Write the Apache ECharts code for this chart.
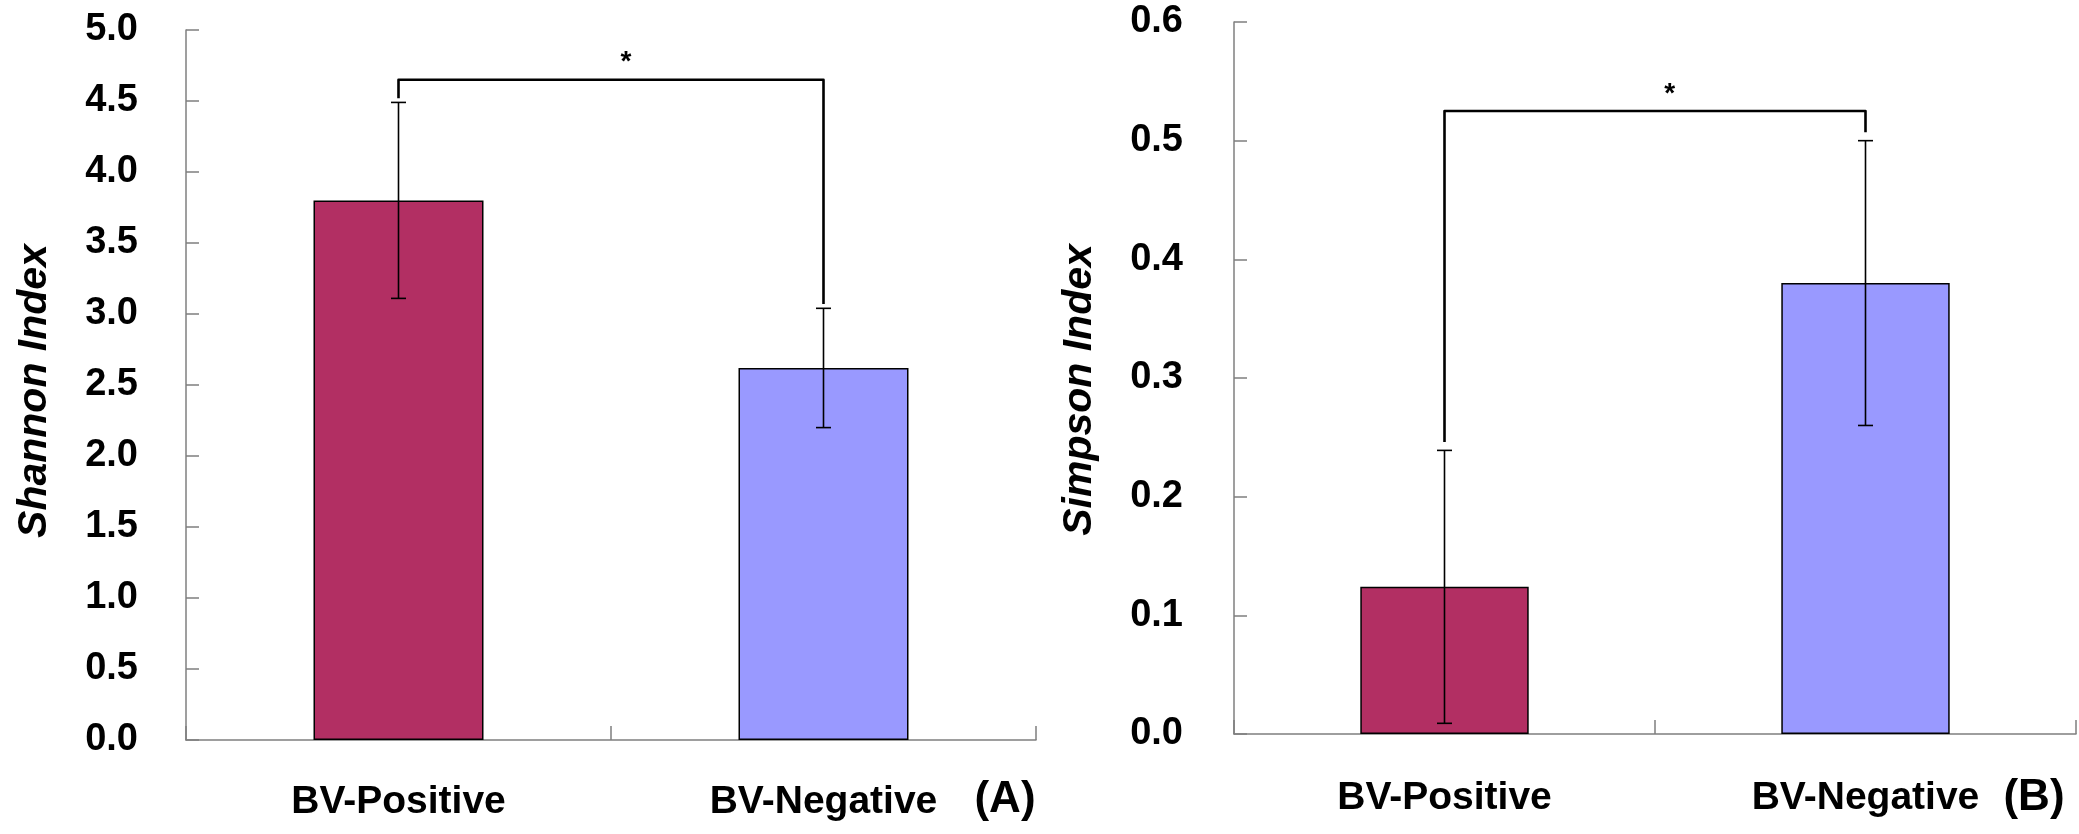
<!DOCTYPE html>
<html>
<head>
<meta charset="utf-8">
<script src="https://cdn.jsdelivr.net/npm/echarts@6/dist/echarts.min.js"></script>
<style>
html,body{margin:0;padding:0;background:#fff;}
#chart{width:2079px;height:834px;}
</style>
</head>
<body>
<div id="chart"></div>
<script>
// ---- data ----
const categories = ['BV-Positive', 'BV-Negative'];
const barColors = ['#B22F63', '#9999FF'];

const shannonMean = [3.80, 2.62];
const shannonErr = [0.69, 0.42];
const shannonTicks = { min: 0, max: 5, interval: 0.5 };
// bracket: [leftBottom, rightBottom, top]
const shannonBracket = [4.52, 3.07, 4.65];

const simpsonMean = [0.124, 0.380];
const simpsonErr = [0.115, 0.120];
const simpsonTicks = { min: 0, max: 0.6, interval: 0.1 };
const simpsonBracket = [0.246, 0.507, 0.525];

const yNames = ['Shannon Index', 'Simpson Index'];
const panelTags = ['(A)', '(B)'];
const sigMark = '*';

// ---- styling ----
const FONT = "'Liberation Sans', Arial, sans-serif";
const AXIS_COLOR = '#7f7f7f';

const chart = echarts.init(document.getElementById('chart'), null, { renderer: 'canvas' });

function errData(mean, err) {
  return mean.map((m, i) => [i, m - err[i], m + err[i]]);
}

function errRender(params, api) {
  const x = api.value(0);
  const lo = api.coord([x, api.value(1)]);
  const hi = api.coord([x, api.value(2)]);
  const cap = 7.5;
  const st = { stroke: '#000', lineWidth: 1.6 };
  return {
    type: 'group',
    children: [
      { type: 'line', shape: { x1: lo[0], y1: lo[1], x2: hi[0], y2: hi[1] }, style: st },
      { type: 'line', shape: { x1: hi[0] - cap, y1: hi[1], x2: hi[0] + cap, y2: hi[1] }, style: st },
      { type: 'line', shape: { x1: lo[0] - cap, y1: lo[1], x2: lo[0] + cap, y2: lo[1] }, style: st }
    ]
  };
}

function bracketRender(params, api) {
  const lb = api.coord([0, api.value(0)]);
  const rb = api.coord([1, api.value(1)]);
  const tl = api.coord([0, api.value(2)]);
  const tr = api.coord([1, api.value(2)]);
  const starX = tl[0] + (tr[0] - tl[0]) * 0.535;
  return {
    type: 'group',
    children: [
      {
        type: 'polyline',
        shape: { points: [lb, tl, tr, rb] },
        style: { stroke: '#000', lineWidth: 2.6, fill: null, lineJoin: 'round' }
      },
      {
        type: 'text',
        style: {
          text: sigMark, x: starX, y: tl[1] - 17,
          align: 'center', verticalAlign: 'middle',
          font: 'bold 28px ' + FONT, fill: '#000'
        }
      }
    ]
  };
}

function makeX(gridIndex, margin) {
  return {
    type: 'category', gridIndex, data: categories,
    boundaryGap: true,
    axisLine: { show: true, lineStyle: { color: AXIS_COLOR, width: 1.5 } },
    axisTick: { show: true, inside: true, length: 14, alignWithLabel: false, interval: 0, lineStyle: { color: AXIS_COLOR, width: 1.5 } },
    axisLabel: { show: true, interval: 0, margin: margin, verticalAlign: 'middle', color: '#000', fontFamily: FONT, fontWeight: 'bold', fontSize: 39 },
    splitLine: { show: false }
  };
}

function makeY(gridIndex, ticks, margin) {
  return {
    type: 'value', gridIndex, min: ticks.min, max: ticks.max, interval: ticks.interval,
    axisLine: { show: true, lineStyle: { color: AXIS_COLOR, width: 1.5 } },
    axisTick: { show: true, inside: true, length: 13, lineStyle: { color: AXIS_COLOR, width: 1.5 } },
    axisLabel: {
      show: true, margin: margin, color: '#000', fontFamily: FONT, fontWeight: 'bold', fontSize: 38,
      padding: [6, 0, 0, 0],
      formatter: v => v.toFixed(1)
    },
    splitLine: { show: false }
  };
}

function barSeries(idx, mean) {
  return {
    type: 'bar', xAxisIndex: idx, yAxisIndex: idx, barWidth: '40%',
    data: mean.map((v, i) => ({ value: v, itemStyle: { color: barColors[i] } })),
    itemStyle: { borderColor: '#000', borderWidth: 1.5 },
    silent: true, animation: false, z: 2
  };
}

const option = {
  backgroundColor: '#fff',
  animation: false,
  grid: [
    { left: 186, top: 30, width: 850, height: 710 },
    { left: 1234, top: 22, width: 842, height: 712 }
  ],
  xAxis: [makeX(0, 62), makeX(1, 64)],
  yAxis: [makeY(0, shannonTicks, 48), makeY(1, simpsonTicks, 51)],
  series: [
    barSeries(0, shannonMean),
    barSeries(1, simpsonMean),
    { type: 'custom', xAxisIndex: 0, yAxisIndex: 0, data: errData(shannonMean, shannonErr), renderItem: errRender, z: 5, silent: true },
    { type: 'custom', xAxisIndex: 1, yAxisIndex: 1, data: errData(simpsonMean, simpsonErr), renderItem: errRender, z: 5, silent: true },
    { type: 'custom', xAxisIndex: 0, yAxisIndex: 0, data: [shannonBracket], renderItem: bracketRender, z: 6, silent: true },
    { type: 'custom', xAxisIndex: 1, yAxisIndex: 1, data: [simpsonBracket], renderItem: bracketRender, z: 6, silent: true }
  ],
  graphic: [
    { type: 'text', x: 35, y: 391, rotation: Math.PI / 2,
      style: { text: yNames[0], align: 'center', verticalAlign: 'middle', font: 'italic bold 41px ' + FONT, fill: '#000' } },
    { type: 'text', x: 1080, y: 390, rotation: Math.PI / 2,
      style: { text: yNames[1], align: 'center', verticalAlign: 'middle', font: 'italic bold 41px ' + FONT, fill: '#000' } },
    { type: 'text', x: 1005, y: 800,
      style: { text: panelTags[0], align: 'center', verticalAlign: 'middle', font: 'bold 44px ' + FONT, fill: '#000' } },
    { type: 'text', x: 2034, y: 798,
      style: { text: panelTags[1], align: 'center', verticalAlign: 'middle', font: 'bold 44px ' + FONT, fill: '#000' } }
  ]
};

chart.setOption(option);
</script>
</body>
</html>
